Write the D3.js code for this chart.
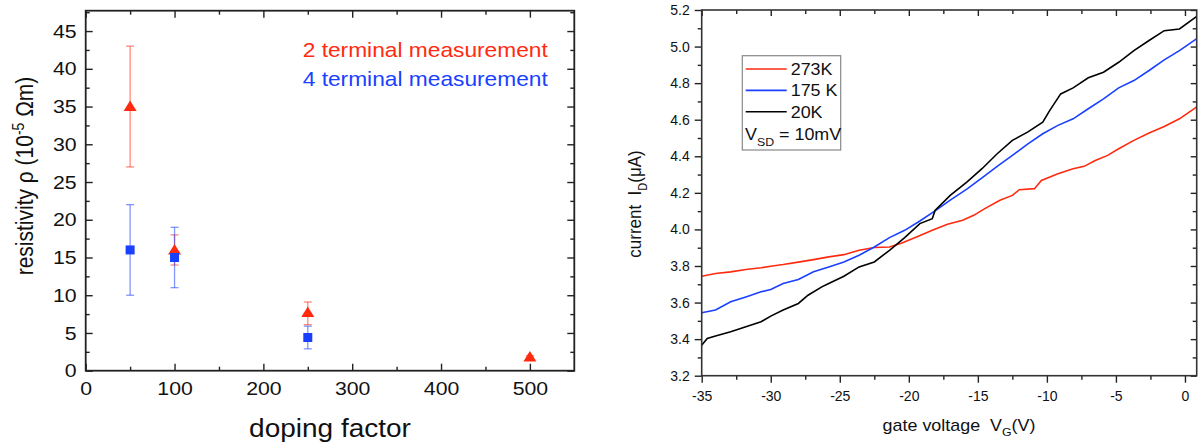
<!DOCTYPE html>
<html>
<head>
<meta charset="utf-8">
<script src="https://cdn.jsdelivr.net/npm/d3@7"></script>
<style>
  body { margin: 0; background: #fff; }
  svg { display: block; }
</style>
</head>
<body>
<svg id="chart" width="1198" height="446"></svg>
<script>
// ---- left panel data: resistivity vs doping factor ----
const dopingTwo = [50, 100, 250, 500];
const rhoTwo = [35, 16, 7.7, 1.8];
const rhoTwoLow = [27, 14, 6.1, 1.6];
const rhoTwoHigh = [43, 18, 9.1, 2.0];

const dopingFour = [50, 100, 250];
const rhoFour = [16, 15, 4.4];
const rhoFourLow = [10, 11, 2.9];
const rhoFourHigh = [22, 19, 5.9];

const dopingTicks = [0, 100, 200, 300, 400, 500];
const rhoTicks = [0, 5, 10, 15, 20, 25, 30, 35, 40, 45];

// ---- right panel data: drain current vs gate voltage ----
const gate273 = [-35, -34, -32.9, -31.8, -30.7, -30, -29.1, -28, -26.9, -25.8, -24.7, -23.6, -22.5, -21.4, -20.5, -19.4, -18.3, -17.2, -16.1, -15.3, -14.5, -13.4, -12.5, -12, -10.9, -10.4, -9.2, -8.1, -7.3, -6.5, -5.6, -4.8, -3.7, -2.6, -1.5, -0.4, 0.83];
const current273 = [3.744, 3.759, 3.768, 3.781, 3.790, 3.799, 3.808, 3.821, 3.835, 3.850, 3.862, 3.886, 3.901, 3.904, 3.926, 3.960, 3.995, 4.028, 4.050, 4.077, 4.114, 4.159, 4.186, 4.217, 4.223, 4.268, 4.305, 4.332, 4.345, 4.377, 4.405, 4.441, 4.487, 4.527, 4.563, 4.605, 4.669];

const gate175 = [-35, -34, -32.9, -31.8, -30.7, -30, -29.1, -28, -26.9, -25.8, -24.7, -23.6, -22.5, -21.4, -20.3, -19.2, -18.1, -17, -15.8, -14.7, -13.6, -12.5, -11.4, -10.3, -9.2, -8.1, -7, -5.9, -4.8, -3.7, -2.6, -1.5, -0.4, 0.83];
const current175 = [3.544, 3.559, 3.604, 3.631, 3.659, 3.671, 3.704, 3.726, 3.768, 3.795, 3.822, 3.859, 3.904, 3.955, 3.995, 4.046, 4.101, 4.160, 4.220, 4.282, 4.345, 4.405, 4.466, 4.523, 4.569, 4.605, 4.660, 4.714, 4.774, 4.814, 4.869, 4.927, 4.978, 5.042];

const gate20 = [-35, -34.6, -34, -32.9, -31.8, -30.7, -30, -29.1, -28, -27.3, -26.3, -25.8, -24.7, -23.6, -22.5, -21.4, -20.3, -19.2, -18.3, -18.1, -17, -15.8, -14.7, -13.6, -12.5, -11.4, -10.3, -9.8, -9, -8.1, -7, -5.9, -4.8, -3.7, -2.6, -1.5, -0.4, 0.83];
const current20 = [3.367, 3.404, 3.417, 3.440, 3.468, 3.495, 3.526, 3.559, 3.595, 3.640, 3.686, 3.704, 3.744, 3.795, 3.822, 3.886, 3.955, 4.032, 4.059, 4.104, 4.186, 4.259, 4.332, 4.414, 4.487, 4.532, 4.587, 4.650, 4.741, 4.774, 4.829, 4.860, 4.914, 4.978, 5.033, 5.087, 5.096, 5.164];

const gateTicks = [-35, -30, -25, -20, -15, -10, -5, 0];
const currentTicks = [3.2, 3.4, 3.6, 3.8, 4.0, 4.2, 4.4, 4.6, 4.8, 5.0, 5.2];
const tempLabels = ['273K', '175 K', '20K'];

// ---- style ----
const FONT = '"Liberation Sans", Arial, sans-serif';
const SX = 1.12; // picture text is a little wide
const RED = '#ff2a10';
const BLUE = '#1a40ff';
const AXIS = '#222';
const NB = '\u00a0';

const svg = d3.select('#chart').attr('font-family', FONT);

function styleAxis(g, fontSize) {
  g.select('.domain').remove();
  g.attr('font-size', fontSize).attr('font-family', FONT);
  g.selectAll('line').attr('stroke', AXIS).attr('stroke-width', 1.4);
  g.selectAll('text').attr('fill', '#111');
}

// ================= LEFT PANEL =================
const L = { left: 85.7, right: 574.3, top: 10.7, bottom: 370.7 };
const xL = d3.scaleLinear().domain([0, 550]).range([L.left, L.right]);
const yL = d3.scaleLinear().domain([0, 47.7]).range([L.bottom, L.top]);

const gL = svg.append('g');

// bottom ticks + labels (inward)
gL.append('g').attr('transform', `translate(0,${L.bottom})`)
  .call(d3.axisBottom(xL).tickValues(dopingTicks).tickSize(-7).tickSizeOuter(0).tickPadding(11).tickFormat(d => String(d)))
  .call(g => styleAxis(g, 19))
  .call(g => g.selectAll('text').attr('transform', `scale(${SX},1)`));
gL.append('g').attr('transform', `translate(0,${L.bottom})`)
  .call(d3.axisBottom(xL).tickValues(d3.range(50, 550, 100)).tickSize(-4).tickSizeOuter(0).tickFormat(''))
  .call(g => styleAxis(g, 19));
// top ticks (inward)
gL.append('g').attr('transform', `translate(0,${L.top})`)
  .call(d3.axisTop(xL).tickValues(dopingTicks).tickSize(-7).tickSizeOuter(0).tickFormat(''))
  .call(g => styleAxis(g, 19));
gL.append('g').attr('transform', `translate(0,${L.top})`)
  .call(d3.axisTop(xL).tickValues(d3.range(50, 550, 100)).tickSize(-4).tickSizeOuter(0).tickFormat(''))
  .call(g => styleAxis(g, 19));
// left ticks + labels (inward)
gL.append('g').attr('transform', `translate(${L.left},0)`)
  .call(d3.axisLeft(yL).tickValues(rhoTicks).tickSize(-7).tickSizeOuter(0).tickPadding(9).tickFormat(d => String(d)))
  .call(g => styleAxis(g, 19))
  .call(g => g.selectAll('text').attr('x', -9 / SX).attr('transform', `scale(${SX},1)`));
gL.append('g').attr('transform', `translate(${L.left},0)`)
  .call(d3.axisLeft(yL).tickValues(d3.range(2.5, 47.6, 5)).tickSize(-4).tickSizeOuter(0).tickFormat(''))
  .call(g => styleAxis(g, 19));
// right ticks (inward)
gL.append('g').attr('transform', `translate(${L.right},0)`)
  .call(d3.axisRight(yL).tickValues(rhoTicks).tickSize(-7).tickSizeOuter(0).tickFormat(''))
  .call(g => styleAxis(g, 19));
gL.append('g').attr('transform', `translate(${L.right},0)`)
  .call(d3.axisRight(yL).tickValues(d3.range(2.5, 47.6, 5)).tickSize(-4).tickSizeOuter(0).tickFormat(''))
  .call(g => styleAxis(g, 19));

gL.append('rect')
  .attr('x', L.left).attr('y', L.top)
  .attr('width', L.right - L.left).attr('height', L.bottom - L.top)
  .attr('fill', 'none').attr('stroke', AXIS).attr('stroke-width', 1.8);

// error bars
function errorBars(g, xs, lows, highs, color) {
  const eb = g.append('g').attr('stroke', color).attr('stroke-opacity', 0.55).attr('stroke-width', 1.3);
  xs.forEach((x, i) => {
    const px = xL(x);
    eb.append('line').attr('x1', px).attr('x2', px).attr('y1', yL(lows[i])).attr('y2', yL(highs[i]));
    eb.append('line').attr('x1', px - 4).attr('x2', px + 4).attr('y1', yL(lows[i])).attr('y2', yL(lows[i]));
    eb.append('line').attr('x1', px - 4).attr('x2', px + 4).attr('y1', yL(highs[i])).attr('y2', yL(highs[i]));
  });
}
errorBars(gL, dopingTwo, rhoTwoLow, rhoTwoHigh, RED);
errorBars(gL, dopingFour, rhoFourLow, rhoFourHigh, BLUE);

// markers
gL.append('g').selectAll('path.tri')
  .data(dopingTwo.map((d, i) => [d, rhoTwo[i]]))
  .join('path')
  .attr('d', 'M0,-6 L6.5,4.5 L-6.5,4.5 Z')
  .attr('transform', d => `translate(${xL(d[0])},${yL(d[1])})`)
  .attr('fill', RED);

gL.append('g').selectAll('rect.sq')
  .data(dopingFour.map((d, i) => [d, rhoFour[i]]))
  .join('rect')
  .attr('x', d => xL(d[0]) - 4.5).attr('y', d => yL(d[1]) - 4.5)
  .attr('width', 9).attr('height', 9)
  .attr('fill', BLUE);

// legend text
gL.append('text')
  .attr('transform', `translate(302.7,57.3) scale(${SX},1)`)
  .attr('font-size', 20.3).attr('fill', RED)
  .text('2 terminal measurement');
gL.append('text')
  .attr('transform', `translate(302.7,86) scale(${SX},1)`)
  .attr('font-size', 20.3).attr('fill', BLUE)
  .text('4 terminal measurement');

// axis titles
gL.append('text')
  .attr('transform', `translate(${(L.left + L.right) / 2},437) scale(${SX},1)`)
  .attr('text-anchor', 'middle').attr('font-size', 25).attr('fill', '#111')
  .text('doping factor');

const yTitleL = gL.append('text')
  .attr('transform', `translate(33,176) scale(${SX},1) rotate(-90)`)
  .attr('text-anchor', 'middle').attr('font-size', 21).attr('fill', '#111');
yTitleL.append('tspan').text('resistivity ρ (10');
yTitleL.append('tspan').attr('dy', -8).attr('font-size', 14).text('-5');
yTitleL.append('tspan').attr('dy', 8).text(NB + 'Ωm)');

// ================= RIGHT PANEL =================
const R = { left: 701.7, right: 1196.7, top: 10, bottom: 375.7 };
const xR = d3.scaleLinear().domain([-35, 0.85]).range([R.left, R.right]);
const yR = d3.scaleLinear().domain([3.2, 5.2]).range([R.bottom, R.top]);

const gR = svg.append('g');
const minorGate = d3.range(-32.5, 0.1, 5);
const minorCurrent = d3.range(3.3, 5.15, 0.2);

// bottom (outward)
gR.append('g').attr('transform', `translate(0,${R.bottom})`)
  .call(d3.axisBottom(xR).tickValues(gateTicks).tickSize(7).tickSizeOuter(0).tickPadding(8).tickFormat(d => String(d)))
  .call(g => styleAxis(g, 14));
gR.append('g').attr('transform', `translate(0,${R.bottom})`)
  .call(d3.axisBottom(xR).tickValues(minorGate).tickSize(4).tickSizeOuter(0).tickFormat(''))
  .call(g => styleAxis(g, 14));
// top (inward)
gR.append('g').attr('transform', `translate(0,${R.top})`)
  .call(d3.axisTop(xR).tickValues(gateTicks).tickSize(-6).tickSizeOuter(0).tickFormat(''))
  .call(g => styleAxis(g, 14));
gR.append('g').attr('transform', `translate(0,${R.top})`)
  .call(d3.axisTop(xR).tickValues(minorGate).tickSize(-4).tickSizeOuter(0).tickFormat(''))
  .call(g => styleAxis(g, 14));
// left (outward)
gR.append('g').attr('transform', `translate(${R.left},0)`)
  .call(d3.axisLeft(yR).tickValues(currentTicks).tickSize(7).tickSizeOuter(0).tickPadding(5).tickFormat(d => d.toFixed(1)))
  .call(g => styleAxis(g, 14));
gR.append('g').attr('transform', `translate(${R.left},0)`)
  .call(d3.axisLeft(yR).tickValues(minorCurrent).tickSize(4).tickSizeOuter(0).tickFormat(''))
  .call(g => styleAxis(g, 14));
// right (inward)
gR.append('g').attr('transform', `translate(${R.right},0)`)
  .call(d3.axisRight(yR).tickValues(currentTicks).tickSize(-6).tickSizeOuter(0).tickFormat(''))
  .call(g => styleAxis(g, 14));
gR.append('g').attr('transform', `translate(${R.right},0)`)
  .call(d3.axisRight(yR).tickValues(minorCurrent).tickSize(-4).tickSizeOuter(0).tickFormat(''))
  .call(g => styleAxis(g, 14));

// curves
const line = d3.line().x(d => xR(d[0])).y(d => yR(d[1]));
const curves = [
  { v: gate273, i: current273, color: RED },
  { v: gate175, i: current175, color: BLUE },
  { v: gate20, i: current20, color: '#000' }
];
gR.append('g').selectAll('path')
  .data(curves)
  .join('path')
  .attr('d', c => line(c.v.map((v, k) => [v, c.i[k]])))
  .attr('fill', 'none')
  .attr('stroke', c => c.color)
  .attr('stroke-width', 1.6);

gR.append('rect')
  .attr('x', R.left).attr('y', R.top)
  .attr('width', R.right - R.left).attr('height', R.bottom - R.top)
  .attr('fill', 'none').attr('stroke', '#333').attr('stroke-width', 1.6);

// legend
const leg = gR.append('g');
leg.append('rect')
  .attr('x', 742.3).attr('y', 55.7).attr('width', 98.4).attr('height', 94.3)
  .attr('fill', '#fff').attr('stroke', '#888').attr('stroke-width', 1.2);
tempLabels.forEach((t, k) => {
  const y = 69 + k * 21.4;
  leg.append('line')
    .attr('x1', 745.7).attr('x2', 786.7).attr('y1', y).attr('y2', y)
    .attr('stroke', curves[k].color).attr('stroke-width', 1.6);
  leg.append('text')
    .attr('transform', `translate(790.7,${y + 6}) scale(${SX},1)`)
    .attr('font-size', 16).attr('fill', '#111')
    .text(t);
});
const vsd = leg.append('text')
  .attr('transform', `translate(745,140) scale(${SX},1)`)
  .attr('font-size', 16).attr('fill', '#111');
vsd.append('tspan').text('V');
vsd.append('tspan').attr('dy', 6).attr('font-size', 11).text('SD');
vsd.append('tspan').attr('dy', -6).text(NB + '=' + NB + '10mV');

// axis titles
const xTitleR = gR.append('text')
  .attr('transform', `translate(959,430.5) scale(${SX},1)`)
  .attr('text-anchor', 'middle').attr('font-size', 16).attr('fill', '#111');
xTitleR.append('tspan').text('gate voltage' + NB + NB + 'V');
xTitleR.append('tspan').attr('dy', 5).attr('font-size', 11).text('G');
xTitleR.append('tspan').attr('dy', -5).text('(V)');

const yTitleR = gR.append('text')
  .attr('transform', `translate(641,204) scale(${SX},1) rotate(-90)`)
  .attr('text-anchor', 'middle').attr('font-size', 17).attr('fill', '#111');
yTitleR.append('tspan').text('current' + NB + NB + 'I');
yTitleR.append('tspan').attr('dy', 5).attr('font-size', 11).text('D');
yTitleR.append('tspan').attr('dy', -5).text('(μA)');
</script>
</body>
</html>
